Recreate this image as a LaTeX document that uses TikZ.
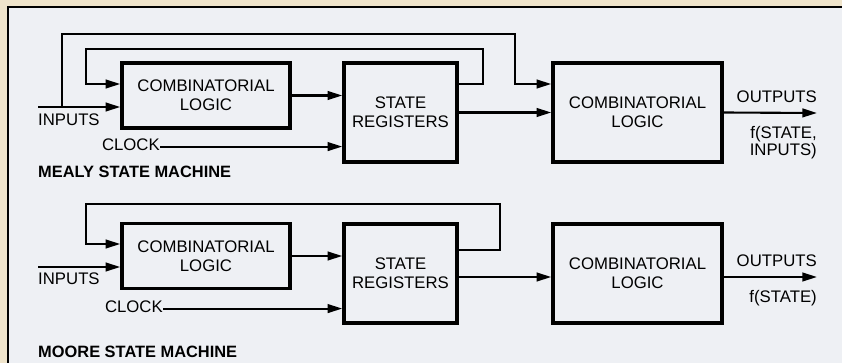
\documentclass[tikz,border=0pt]{standalone}
\usepackage{fontspec}
\setmainfont{Liberation Sans}
\usetikzlibrary{arrows.meta}

\definecolor{paper}{HTML}{EFE4CB}
\definecolor{panel}{HTML}{EEF0F4}

\tikzset{
  block/.style={draw, line width=3pt, align=center, inner sep=0pt},
  logicbox/.style={block, minimum width=50.4mm, minimum height=19.5mm},
  regbox/.style={block, minimum width=33.9mm, minimum height=29.7mm},
  outbox/.style={block, minimum width=50.7mm, minimum height=29.7mm},
  wire/.style={line width=1.8pt, -{Triangle[length=4.4mm,width=2.6mm]}},
  lbl/.style={inner sep=0pt},
  title/.style={inner sep=0pt, font=\fontsize{14}{16}\selectfont\bfseries}
}

\begin{document}
\begin{tikzpicture}[x=0.3mm, y=-0.3mm, font=\fontsize{14.3}{16.3}\selectfont]

        \useasboundingbox (0,0) rectangle (842,363);
        \fill[paper] (0,0) rectangle (842,363);
        \fill[panel] (8,7) rectangle (842,363);
        \draw[line width=1.6pt] (8,363) -- (8,7) -- (842,7); % marco

        % Mealy
        \begin{scope}
            \node[logicbox] (clm) at (206,95.5) {COMBINATORIAL\\LOGIC};
            \node[regbox] (srm) at (400.5,112.5) {STATE\\REGISTERS};
            \node[outbox] (com) at (637.5,112.5) {COMBINATORIAL\\LOGIC};
            \coordinate (inm) at (38,107);
            \coordinate (tapm) at (62,107);
            \coordinate (outm) at (817,113);
            \node[lbl, anchor=base west] (inlm) at (38,125) {INPUTS};
            \node[lbl, anchor=base east] (clkm) at (160,150) {CLOCK};
            \node[lbl, anchor=base east] (outlm) at (817,102) {OUTPUTS};
            \node[lbl, anchor=base east, align=right, font=\fontsize{14.3}{14.5}\selectfont] (fm) at (817,155) {f(STATE,\\INPUTS)};
            \node[title, anchor=base west] (tm) at (38,177) {MEALY STATE MACHINE};

            \draw[wire] (inm) -- (inm -| clm.west);
            \draw[wire] (tapm) |- (515,34) |- (com.west |- 0,84);
            \draw[wire] (srm.east |- 0,84) -| (483,49) -| (86,84) -- (clm.west |- 0,84);
            \draw[wire] (clm.east) -- (clm.east -| srm.west);
            \draw[wire] ([yshift=-2pt]clkm.east) -- ([yshift=-2pt]clkm.east -| srm.west);
            \draw[wire] (srm.east) -- (com.west);
            \draw[wire] (com.east) -- (outm);
        \end{scope}

        % Moore
        \begin{scope}
            \node[logicbox] (cln) at (206,256) {COMBINATORIAL\\LOGIC};
            \node[regbox] (srn) at (400.5,273.5) {STATE\\REGISTERS};
            \node[outbox] (con) at (637.5,273.5) {COMBINATORIAL\\LOGIC};
            \coordinate (inn) at (38,267);
            \coordinate (outn) at (817,277);
            \node[lbl, anchor=base west] (inln) at (38,284) {INPUTS};
            \node[lbl, anchor=base east] (clkn) at (163,312) {CLOCK};
            \node[lbl, anchor=base east] (outln) at (817,266) {OUTPUTS};
            \node[lbl, anchor=base east] (fn) at (817,302) {f(STATE)};
            \node[title, anchor=base west] (tn) at (38,357) {MOORE STATE MACHINE};

            \draw[wire] (inn) -- (inn -| cln.west);
            \draw[wire] (srn.east |- 0,250) -| (500,204) -| (86,244) -- (cln.west |- 0,244);
            \draw[wire] (cln.east) -- (cln.east -| srn.west);
            \draw[wire] ([yshift=-2pt]clkn.east) -- ([yshift=-2pt]clkn.east -| srn.west);
            \draw[wire] (srn.east |- 0,277) -- (con.west |- 0,277);
            \draw[wire] (con.east |- outn) -- (outn);
        \end{scope}

\end{tikzpicture}
\end{document}
